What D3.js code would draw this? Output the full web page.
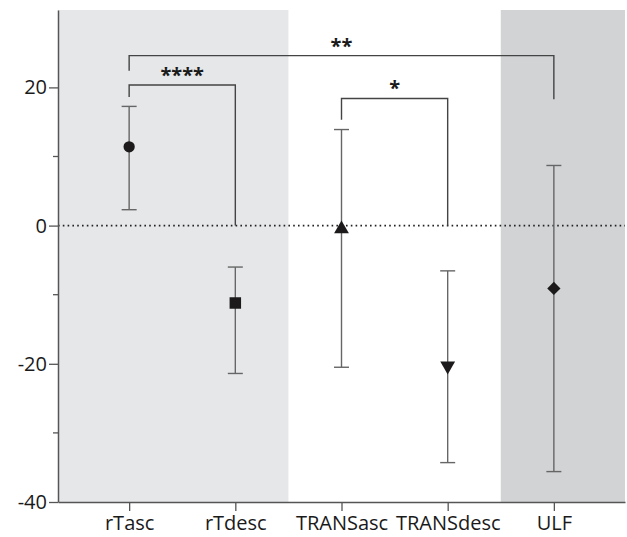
<!DOCTYPE html>
<html>
<head>
<meta charset="utf-8">
<script src="https://cdn.jsdelivr.net/npm/d3@7"></script>
<style>
  body { margin: 0; background: #fff; }
  text { font-family: "Open Sans", sans-serif; fill: #1a1a1a; }
</style>
</head>
<body>
<div id="chart"></div>
<script>
// groups along the x axis
const groups = ["rTasc", "rTdesc", "TRANSasc", "TRANSdesc", "ULF"];
// mean and error bar ends per group
const means = [11.4, -11.2, -0.5, -20.3, -9.1];
const upper = [17.25, -6.0, 13.9, -6.55, 8.7];
const lower = [2.3, -21.4, -20.5, -34.3, -35.6];
const markers = ["circle", "square", "triangle", "triangleDown", "diamond"];
// y ticks
const majorTicks = [-40, -20, 0, 20];
const minorTicks = [-30, -10, 10];
// shaded blocks (first to last group covered)
const shadeFrom = ["rTasc", "ULF"];
const shadeTo = ["rTdesc", "ULF"];
const shadeFill = ["#e6e7e8", "#d1d3d4"];
// significance brackets
const brFrom = ["rTasc", "rTasc", "TRANSasc"];
const brTo = ["ULF", "rTdesc", "TRANSdesc"];
const brTop = [24.6, 20.35, 18.4];
const brFromEnd = [22.4, 18.6, 15.3];
const brToEnd = [18.3, 0, 0];
const brLabel = ["**", "****", "*"];

const width = 627, height = 537;
const margin = { top: 10, right: 2, bottom: 35, left: 58 };
const fontSize = 20;

const svg = d3.select("#chart").append("svg")
  .attr("width", width)
  .attr("height", height);

const x = d3.scalePoint()
  .domain(groups)
  .range([margin.left, width - margin.right])
  .padding(0.67);
const y = d3.scaleLinear()
  .domain([-40, 31.2])
  .range([height - margin.bottom, margin.top]);

const step = x.step();
const xLeft = margin.left, xRight = width - margin.right;

// background blocks
shadeFrom.forEach((g, i) => {
  let x0 = groups.indexOf(g) === 0 ? xLeft : x(g) - step / 2;
  let x1 = groups.indexOf(shadeTo[i]) === groups.length - 1 ? xRight : x(shadeTo[i]) + step / 2;
  svg.append("rect")
    .attr("x", x0)
    .attr("y", y(31.2))
    .attr("width", x1 - x0)
    .attr("height", y(-40) - y(31.2))
    .attr("fill", shadeFill[i]);
});

// zero line
svg.append("line")
  .attr("x1", xLeft)
  .attr("x2", xRight)
  .attr("y1", y(0))
  .attr("y2", y(0))
  .attr("stroke", "#222")
  .attr("stroke-width", 1.6)
  .attr("stroke-dasharray", "1.6,3.2");

// y axis (plain hyphen for negatives, like the original)
const yAxis = svg.append("g")
  .attr("transform", "translate(" + xLeft + ",0)")
  .call(d3.axisLeft(y).tickValues(majorTicks).tickFormat(d => String(d))
    .tickSize(9).tickSizeOuter(0).tickPadding(2));
yAxis.selectAll("line").attr("stroke", "#555").attr("stroke-width", 1.3);
yAxis.select(".domain").attr("stroke", "#555").attr("stroke-width", 1.5);
yAxis.selectAll("text")
  .attr("font-size", fontSize)
  .attr("font-family", "Open Sans")
  .attr("fill", "#1a1a1a");
svg.append("g")
  .attr("transform", "translate(" + xLeft + ",0)")
  .selectAll("line").data(minorTicks).enter().append("line")
  .attr("x1", -5).attr("x2", 0)
  .attr("y1", d => y(d)).attr("y2", d => y(d))
  .attr("stroke", "#555").attr("stroke-width", 1.3);

// x axis
const xAxis = svg.append("g")
  .attr("transform", "translate(0," + y(-40) + ")")
  .call(d3.axisBottom(x).tickSize(9).tickSizeOuter(0).tickPadding(5));
xAxis.select(".domain").attr("stroke", "#555").attr("stroke-width", 1.5);
xAxis.selectAll("line").attr("stroke", "#555").attr("stroke-width", 1.3);
xAxis.selectAll("text")
  .attr("font-size", fontSize)
  .attr("font-family", "Open Sans")
  .attr("fill", "#1a1a1a");

// error bars
const capW = 7.5;
groups.forEach((g, i) => {
  let eg = svg.append("g").attr("stroke", "#666").attr("stroke-width", 1.4);
  eg.append("line").attr("x1", x(g)).attr("x2", x(g)).attr("y1", y(upper[i])).attr("y2", y(lower[i]));
  eg.append("line").attr("x1", x(g) - capW).attr("x2", x(g) + capW).attr("y1", y(upper[i])).attr("y2", y(upper[i]));
  eg.append("line").attr("x1", x(g) - capW).attr("x2", x(g) + capW).attr("y1", y(lower[i])).attr("y2", y(lower[i]));
});

// markers
const symbolFor = {
  circle: [d3.symbolCircle, 100, 0],
  square: [d3.symbolSquare, 132, 0],
  triangle: [d3.symbolTriangle, 95, 0],
  triangleDown: [d3.symbolTriangle, 95, 180],
  diamond: [d3.symbolSquare, 88, 45]
};
groups.forEach((g, i) => {
  let s = symbolFor[markers[i]];
  svg.append("path")
    .attr("d", d3.symbol().type(s[0]).size(s[1])())
    .attr("transform", "translate(" + x(g) + "," + y(means[i]) + ") rotate(" + s[2] + ")")
    .attr("fill", "#1c1a1b");
});

// significance brackets
brFrom.forEach((g, i) => {
  let xa = x(g), xb = x(brTo[i]);
  svg.append("path")
    .attr("d", "M" + xa + "," + y(brFromEnd[i]) + "V" + y(brTop[i]) + "H" + xb + "V" + y(brToEnd[i]))
    .attr("fill", "none")
    .attr("stroke", "#444")
    .attr("stroke-width", 1.4);
  svg.append("text")
    .attr("x", (xa + xb) / 2)
    .attr("y", y(brTop[i]) - 3)
    .attr("text-anchor", "middle")
    .attr("font-size", 20)
    .attr("font-weight", "bold")
    .attr("fill", "#1a1a1a")
    .text(brLabel[i]);
});
</script>
</body>
</html>
